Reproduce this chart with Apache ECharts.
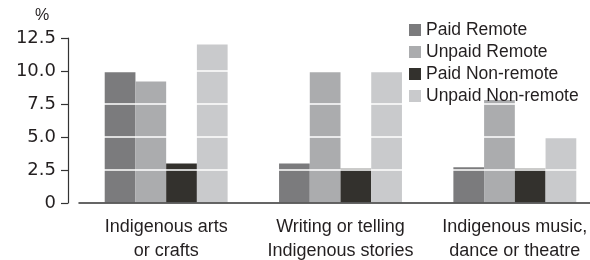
<!DOCTYPE html>
<html>
<head>
<meta charset="utf-8">
<script src="https://cdn.jsdelivr.net/npm/echarts@6/dist/echarts.min.js"></script>
<style>
  html, body { margin: 0; padding: 0; background: #fff; }
  #chart { width: 590px; height: 260px; }
</style>
</head>
<body>
<div id="chart"></div>
<script>
// categories and series values (%)
const categories = ['Indigenous arts\nor crafts', 'Writing or telling\nIndigenous stories', 'Indigenous music,\ndance or theatre'];
const seriesNames = ['Paid Remote', 'Unpaid Remote', 'Paid Non-remote', 'Unpaid Non-remote'];
const paidRemote = [9.9, 3.0, 2.7];
const unpaidRemote = [9.2, 9.9, 7.8];
const paidNonRemote = [3.0, 2.6, 2.6];
const unpaidNonRemote = [12.0, 9.9, 4.9];
const colors = ['#7b7b7d', '#abacae', '#33312d', '#c9cacc'];

const font = '"Liberation Sans", Arial, sans-serif';
const numFont = '"DejaVu Sans", sans-serif';
const textColor = '#231f20';

let myChart = echarts.init(document.getElementById('chart'), null, { renderer: 'canvas' });

const allValues = [paidRemote, unpaidRemote, paidNonRemote, unpaidNonRemote];

let option = {
  backgroundColor: '#fff',
  animation: false,
  textStyle: { fontFamily: font, color: textColor },
  title: {
    text: '%',
    left: 30,
    top: 3,
    textStyle: { fontFamily: font, fontSize: 16, fontWeight: 'normal', color: textColor }
  },
  legend: {
    orient: 'vertical',
    left: 404,
    top: 16,
    z: 10,
    itemWidth: 12,
    itemHeight: 12,
    itemGap: 4,
    icon: 'rect',
    data: seriesNames,
    textStyle: { fontFamily: font, fontSize: 17.5, color: textColor }
  },
  grid: {
    left: 79,
    top: 38,
    bottom: 57,
    width: 523,
    outerBoundsMode: 'none'
  },
  xAxis: {
    type: 'category',
    data: categories,
    z: 6,
    axisLine: { lineStyle: { color: '#333', width: 1.5 } },
    axisTick: { alignWithLabel: true, length: 5, lineStyle: { color: '#333', width: 1.5 } },
    axisLabel: { interval: 0, fontFamily: font, fontSize: 18, color: textColor, margin: 12, lineHeight: 24 }
  },
  yAxis: {
    type: 'value',
    min: 0,
    max: 12.5,
    interval: 2.5,
    offset: 11,
    z: 5,
    axisLine: { show: true, lineStyle: { color: '#333', width: 1.2 } },
    axisTick: { show: true, length: 7, lineStyle: { color: '#333', width: 1.2 } },
    axisLabel: {
      fontFamily: numFont, fontSize: 18, color: textColor, margin: 12,
      formatter: v => v === 0 ? '0' : v.toFixed(1)
    },
    splitLine: { show: true, lineStyle: { color: '#fff', width: 1.5 } }
  },
  series: seriesNames.map((name, i) => ({
    name: name,
    type: 'bar',
    data: allValues[i],
    barGap: '0%',
    barCategoryGap: '29.5%',
    itemStyle: { color: colors[i] }
  }))
};

myChart.setOption(option, true);
</script>
</body>
</html>
